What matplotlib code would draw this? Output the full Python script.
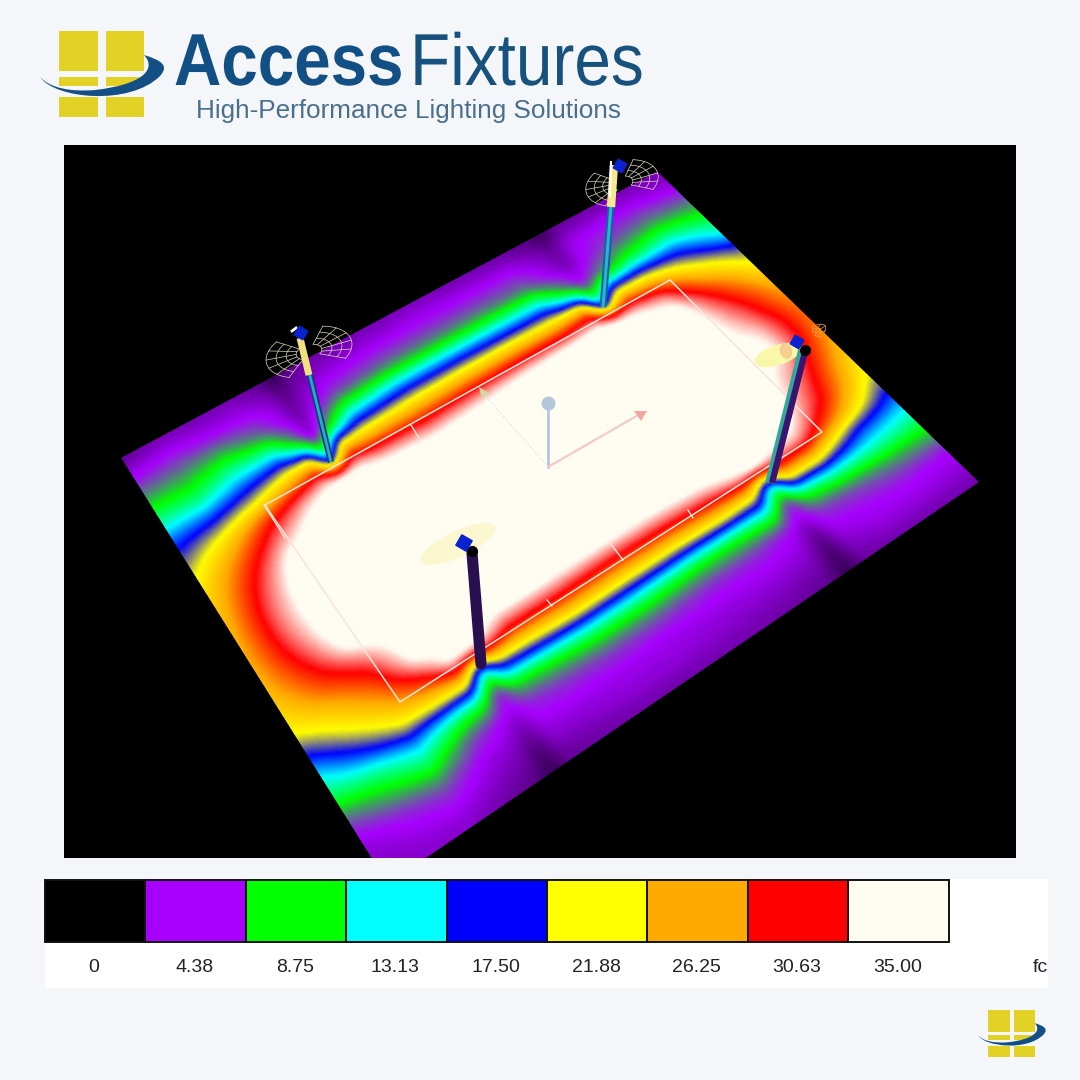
import matplotlib
matplotlib.use("Agg")
import matplotlib.pyplot as plt
from matplotlib.colors import LinearSegmentedColormap
from matplotlib.patches import Rectangle, Polygon, Ellipse, PathPatch
from matplotlib.patheffects import AbstractPathEffect
from matplotlib.path import Path
from matplotlib.transforms import Affine2D
import numpy as np

# legend of the light levels
legend_values = [0, 4.38, 8.75, 13.13, 17.50, 21.88, 26.25, 30.63, 35.00]
legend_labels = ['0', '4.38', '8.75', '13.13', '17.50', '21.88', '26.25', '30.63', '35.00']
legend_colors = ['#000000', '#a800ff', '#00ff00', '#00ffff', '#0000ff',
                 '#ffff00', '#ffaa00', '#ff0000', '#fffcf2']

# fc read off the floor: one list per station along the long side,
# each going across from the far edge (0) to the near edge (1) in 21 steps
stations = [0, .07, .14, .21, .25, .28, .31, .35, .44, .53, .62, .70, .75, .78, .81, .86, .93, 1]
fc_00 = [2.5, 4.5, 7.5, 11.5, 16.5, 20, 23, 24.5, 25.5, 26, 26, 25.5, 24, 22, 17.5, 13, 10, 6, 4, 3.5, 3]
fc_07 = [3, 5, 7.5, 11, 17.5, 24, 28, 30.5, 32, 32.5, 32, 30.5, 28.5, 25, 22, 17.5, 11.5, 8, 5, 4, 3.5]
fc_14 = [3, 4.5, 8.5, 13.5, 20, 29, 33, 36, 37, 37, 37, 36, 32, 29, 26, 22, 14.5, 10, 6, 4.4, 3.5]
fc_21 = [3, 4.4, 6.5, 14, 24, 33, 36.5, 37, 37, 37, 37, 37, 36.5, 35.5, 30.5, 23, 11, 6, 4.2, 3.5, 2.8]
fc_25 = [2.5, 3.8, 4.4, 8, 26, 35, 37, 37, 37, 37, 37, 37, 37, 36.5, 35, 23, 10, 4.8, 3.8, 3, 2.4]
fc_28 = [1.5, 2.5, 3, 3.5, 12, 36, 37, 37, 37, 37, 37, 37, 37, 37, 35, 12, 5, 4, 3, 2, 1.5]
fc_31 = [2.4, 3.4, 4.3, 8, 26, 35.5, 37, 37, 37, 37, 37, 37, 37, 36.5, 34, 20, 9, 5, 4.3, 3.4, 2.6]
fc_35 = [2.8, 4, 6, 14, 25, 34, 37, 37, 37, 37, 37, 37, 37, 36, 31, 21, 9.5, 5.5, 4.3, 3.5, 2.8]
fc_44 = [3, 4.4, 7, 16, 25.5, 33, 37, 37, 37, 37, 37, 37, 37, 36, 31, 22.5, 11, 6, 4.3, 3.8, 3]
fc_53 = [3.2, 4.6, 7, 16, 26, 34, 37, 37, 37, 37, 37, 37, 37, 36, 30.5, 22, 11, 6, 4.2, 3.8, 3]
fc_62 = [3, 4.6, 7, 15.5, 26, 35, 37, 37, 37, 37, 37, 37, 37, 36, 31, 22, 10, 5.5, 4.2, 3.6, 3]
fc_70 = [2.8, 4.6, 6.8, 15, 25.5, 35.5, 37, 37, 37, 37, 37, 37, 37, 36.5, 32, 23, 10, 5.5, 4.3, 3.5, 2.8]
fc_75 = [2.4, 3.5, 4.3, 8.5, 27, 36, 37, 37, 37, 37, 37, 37, 37, 37, 34, 22, 11, 4.8, 4, 3.2, 2.5]
fc_78 = [1.5, 2.8, 3.2, 5, 12, 35, 37, 37, 37, 37, 37, 37, 37, 37, 35.5, 12, 5, 3.8, 2.5, 1.8, 1.5]
fc_81 = [2.6, 4.2, 4.5, 7, 23, 34, 37, 37, 37, 37, 37, 37, 37, 37, 34, 24, 10, 5.5, 4.3, 3.5, 2.8]
fc_86 = [2.8, 4.5, 6, 10, 22, 32, 36, 37, 37, 37, 37, 37, 37, 36, 33, 24, 12, 6, 4.5, 4, 3]
fc_93 = [3, 4.6, 7, 12, 18.5, 24, 29, 31.5, 33, 34.5, 35, 33, 31.5, 30, 26, 17, 12, 7, 4.8, 4, 3]
fc_100 = [3, 4, 6.5, 9.5, 13, 19, 22.5, 25.5, 27, 28, 27.5, 26, 24, 22, 18.5, 14.5, 11, 7.5, 4.5, 3.8, 3]
fc_table = np.array([fc_00, fc_07, fc_14, fc_21, fc_25, fc_28, fc_31, fc_35, fc_44, fc_53,
                     fc_62, fc_70, fc_75, fc_78, fc_81, fc_86, fc_93, fc_100])

# plane corners in picture pixels
left_c = np.array([122, 458])
top_c = np.array([657, 172])
right_c = np.array([978, 482])
bottom_c = np.array([388, 883])

fig = plt.figure(figsize=(10.8, 10.8), dpi=100, facecolor='#f4f6f9')
ax = fig.add_axes([0, 0, 1, 1])
ax.set_xlim(0, 1080)
ax.set_ylim(1080, 0)
ax.axis('off')

# black viewport
view = Rectangle((64, 145), 952, 713, facecolor='black', edgecolor='none', zorder=1)
ax.add_patch(view)


def box(a, n):
    # plain moving average, the ends held flat
    k = np.ones(n) / n
    return np.convolve(np.pad(a, n, mode='edge'), k, mode='same')[n:-n]


# floor: table resampled to a fine mesh and softened so the bands run smooth
t_read = np.linspace(0, 1, fc_table.shape[1])
s_fine = np.linspace(0, 1, 251)
t_fine = np.linspace(0, 1, 201)
fc_fine = np.array([np.interp(t_fine, t_read, row) for row in fc_table])
fc_fine = np.array([np.interp(s_fine, stations, col) for col in fc_fine.T]).T
fc_fine = np.apply_along_axis(box, 1, fc_fine, 9)
fc_fine = np.apply_along_axis(box, 0, fc_fine, 5)

s_grid, t_grid = np.meshgrid(s_fine, t_fine, indexing='ij')
far = left_c[:, None, None] + s_grid * (top_c - left_c)[:, None, None]
near = bottom_c[:, None, None] + s_grid * (right_c - bottom_c)[:, None, None]
nodes = far + t_grid * (near - far)

cmap = LinearSegmentedColormap.from_list(
    'fc', [(v / 35.0, c) for v, c in zip(legend_values, legend_colors)])
floor = ax.pcolormesh(nodes[0], nodes[1], fc_fine, shading='gouraud', cmap=cmap,
                      vmin=0, vmax=35, zorder=2)
floor.set_clip_path(view)

# field outline and its tick marks
ax.add_patch(Polygon([(265, 505), (670, 280), (822, 432), (400, 702)], closed=True,
                     fill=False, edgecolor='#f8e4d8', lw=1.1, zorder=3))
for a, b in [((411, 425), (419, 438)), ((610, 543), (623, 560)), ((547, 600), (552, 606)),
             ((688, 510), (693, 518)), ((264, 505), (285, 538))]:
    ax.plot([a[0], b[0]], [a[1], b[1]], color='#f8e4d8', lw=1, zorder=3)


def wire_fan(cx, cy, rx, ry, angle, color, lobes, rings=4, spokes=6):
    # only the two wings of the lamp pattern are drawn
    a = np.radians(angle)
    for th0, th1 in lobes:
        for r in np.linspace(.3, 1, rings):
            th = np.linspace(th0, th1, 30)
            x = r * rx * np.cos(th)
            y = r * ry * np.sin(th)
            ax.plot(cx + x * np.cos(a) - y * np.sin(a), cy + x * np.sin(a) + y * np.cos(a),
                    color=color, lw=.5, zorder=5)
        for th in np.linspace(th0, th1, spokes):
            x = np.array([.3, 1]) * rx * np.cos(th)
            y = np.array([.3, 1]) * ry * np.sin(th)
            ax.plot(cx + x * np.cos(a) - y * np.sin(a), cy + x * np.sin(a) + y * np.cos(a),
                    color=color, lw=.5, zorder=5)


def lamp(x, y, size=10):
    ax.add_patch(Rectangle((x - size / 2, y - size / 2), size, size, angle=30,
                           rotation_point='center', facecolor='#0a22d0',
                           edgecolor='#0a22d0', zorder=9))


wings = [(-1.1, .7), (2.2, 4.0)]

# the two far poles (thin, teal with a light top)
wire_fan(309, 352, 44, 24, -15, '#dcd8b8', wings)
ax.plot([331, 309], [462, 372], color='#16349c', lw=4.5, solid_capstyle='butt', zorder=6)
ax.plot([331, 309], [462, 372], color='#28b0b0', lw=2, solid_capstyle='butt', zorder=7)
ax.plot([309, 300], [375, 338], color='#f0e080', lw=5, solid_capstyle='butt', zorder=7)
ax.plot([296, 292], [328, 331], color='white', lw=2, zorder=8)
lamp(301, 333)

wire_fan(622, 183, 37, 22, -15, '#dcd8b8', wings)
ax.plot([603, 611], [307, 205], color='#1a5ab8', lw=5, solid_capstyle='butt', zorder=6)
ax.plot([603, 611], [307, 205], color='#28b8c0', lw=2.2, solid_capstyle='butt', zorder=7)
ax.plot([611, 614], [207, 165], color='#f6e890', lw=6, solid_capstyle='butt', zorder=7)
ax.plot([610, 611], [196, 162], color='white', lw=1.5, zorder=8)
lamp(620, 166)

# the two near poles (thick, dark)
ax.add_patch(Ellipse((778, 355), 48, 20, angle=-18, facecolor='#fbf7a8', edgecolor='none', zorder=5))
ax.add_patch(Ellipse((786, 351), 12, 16, angle=-18, facecolor='#f6cf90', edgecolor='none', zorder=5))
wire_fan(812, 335, 16, 7, -35, '#f2a040', [(-1.2, 1.2)], rings=3, spokes=5)
ax.plot([770, 803], [483, 350], color='#33a89a', lw=7, solid_capstyle='butt', zorder=6)
ax.plot([772, 805], [483, 352], color='#3a1470', lw=4.5, solid_capstyle='butt', zorder=7)
ax.plot([805], [350], 'o', color='black', ms=7, zorder=8)
lamp(797, 342)

ax.add_patch(Ellipse((458, 544), 82, 26, angle=-25, facecolor='#fbf8d0', edgecolor='none', zorder=5))
ax.plot([472, 481], [553, 664], color='#2a0f50', lw=8, solid_capstyle='round', zorder=7)
ax.plot([472], [551], 'o', color='black', ms=7, zorder=8)
lamp(464, 543, 12)

# orientation arrows in the middle of the field
ax.plot([548, 548], [467, 408], color='#b4c6dc', lw=2, zorder=4)
ax.plot([548], [403], 'o', color='#b4c6dc', ms=9, zorder=4)
ax.plot([548, 640], [467, 414], color='#f4c8c8', lw=1.5, zorder=4)
ax.add_patch(Polygon([(634, 411), (647, 411), (641, 421)], closed=True, facecolor='#f0a8a0', edgecolor='none', zorder=4))
ax.plot([548, 484], [467, 394], color='#d8e8f0', lw=1, ls=':', zorder=4)
ax.add_patch(Polygon([(479, 387), (489, 393), (482, 399)], closed=True, facecolor='#d0d8a8', edgecolor='none', zorder=4))

# colour legend
ax.add_patch(Rectangle((45, 879), 1003, 109, facecolor='white', edgecolor='none', zorder=1))
swatch_w = 100.4
for i, (val, col, lab) in enumerate(zip(legend_values, legend_colors, legend_labels)):
    x0 = 45 + i * swatch_w
    ax.add_patch(Rectangle((x0, 880), swatch_w, 62, facecolor=col, edgecolor='#111111', lw=1.4, zorder=2))
    ax.text(x0 + 49, 967, lab, ha='center', va='center', fontsize=14,
            family='Liberation Sans', color='#222222', zorder=3)
ax.text(1040, 967, 'fc', ha='center', va='center', fontsize=14,
        family='Liberation Sans', color='#222222', zorder=3)


def logo(x0, y0, k):
    # drawn in the units of the big logo, moved to x0, y0 and scaled by k
    def fx(x):
        return x0 + (x - 58.6) * k

    def fy(y):
        return y0 + (y - 31) * k
    for xa, xb in [(58.6, 98), (105.5, 144)]:
        for ya, yb in [(31, 70.7), (77, 86), (97, 117)]:
            ax.add_patch(Rectangle((fx(xa), fy(ya)), (xb - xa) * k, (yb - ya) * k,
                                   facecolor='#e3d125', edgecolor='none', zorder=2))
    verts = [(40, 77), (55, 99), (130, 106), (160, 76),
             (170, 65), (160, 60), (144, 55),
             (158, 70), (140, 85), (95, 90),
             (70, 92), (50, 88), (40, 77)]
    codes = [Path.MOVETO] + [Path.CURVE4] * 12
    ax.add_patch(PathPatch(Path([(fx(x), fy(y)) for x, y in verts], codes),
                           facecolor='#134f85', edgecolor='none', zorder=3))


class Narrow(AbstractPathEffect):
    # the logo lettering is narrower than any installed face
    def __init__(self, sx):
        super().__init__()
        self.sx = sx

    def draw_path(self, renderer, gc, tpath, affine, rgbFace=None):
        renderer.draw_path(gc, tpath, Affine2D().scale(self.sx, 1) + affine, rgbFace)


logo(58.6, 31, 1)
logo(988, 1010, .547)
ax.text(174, 85, 'Access', fontsize=53, fontweight='bold', family='Liberation Sans',
        color='#124f85', va='baseline', ha='left', zorder=3, path_effects=[Narrow(.89)])
ax.text(410, 85, 'Fixtures', fontsize=53, family='Liberation Sans',
        color='#17527f', va='baseline', ha='left', zorder=3, path_effects=[Narrow(.893)])
ax.text(196, 118, 'High-Performance Lighting Solutions', fontsize=18.8, family='Liberation Sans',
        color='#4a6f8c', va='baseline', ha='left', zorder=3)

plt.savefig('out.png', dpi=100, facecolor=fig.get_facecolor())
